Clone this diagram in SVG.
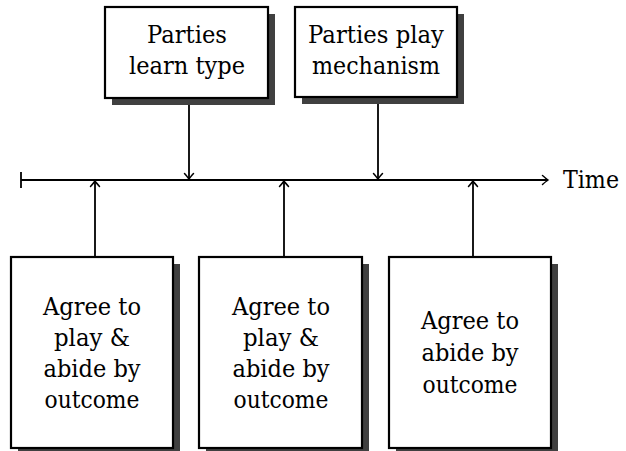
<svg xmlns="http://www.w3.org/2000/svg" width="626" height="451" viewBox="0 0 626 451">
<style>
.box{fill:#fff;stroke:#000;stroke-width:2.2}
.sh{fill:#404040}
.ln{stroke:#000;stroke-width:1.8;fill:none}
</style>
<defs>
<marker id="ah" markerUnits="userSpaceOnUse" markerWidth="14" markerHeight="14" viewBox="-7 -7 14 14" refX="0" refY="0" orient="auto" overflow="visible">
<path d="M-5.5,-4.5 Q-1.5,-1 0,0 Q-1.5,1 -5.5,4.5" fill="none" stroke="#000" stroke-width="1.5" stroke-linecap="round"/>
</marker>
</defs>
<rect width="626" height="451" fill="#fff"/>
<g id="connectors">
<line class="ln" x1="21" y1="180" x2="548" y2="180" marker-end="url(#ah)"/>
<line class="ln" x1="21" y1="172" x2="21" y2="188"/>
<line class="ln" x1="189" y1="98" x2="189" y2="179" marker-end="url(#ah)"/>
<line class="ln" x1="378" y1="97" x2="378" y2="179" marker-end="url(#ah)"/>
<line class="ln" x1="95" y1="257" x2="95" y2="181" marker-end="url(#ah)"/>
<line class="ln" x1="284" y1="257" x2="284" y2="181" marker-end="url(#ah)"/>
<line class="ln" x1="473" y1="257" x2="473" y2="181" marker-end="url(#ah)"/>
</g>
<g font-family="'DejaVu Serif', serif" font-size="25" fill="#000" text-anchor="middle">
<g id="time">
<text x="563" y="188" text-anchor="start" textLength="56" lengthAdjust="spacingAndGlyphs">Time</text>
</g>
<g id="n1">
<rect class="sh" x="112" y="14" width="163" height="91"/>
<rect class="box" x="105" y="7" width="163" height="91"/>
<text x="187" y="43" textLength="80" lengthAdjust="spacingAndGlyphs">Parties</text>
<text x="187" y="74" textLength="116" lengthAdjust="spacingAndGlyphs">learn type</text>
</g>
<g id="n2">
<rect class="sh" x="302" y="14" width="162" height="90"/>
<rect class="box" x="295" y="7" width="162" height="90"/>
<text x="376" y="43" textLength="136" lengthAdjust="spacingAndGlyphs">Parties play</text>
<text x="376" y="74" textLength="128" lengthAdjust="spacingAndGlyphs">mechanism</text>
</g>
<g id="n3">
<rect class="sh" x="18" y="264" width="162" height="191"/>
<rect class="box" x="11" y="257" width="162" height="191"/>
<text x="92" y="315" textLength="98" lengthAdjust="spacingAndGlyphs">Agree to</text>
<text x="92" y="346" textLength="76" lengthAdjust="spacingAndGlyphs">play &amp;</text>
<text x="92" y="377" textLength="97" lengthAdjust="spacingAndGlyphs">abide by</text>
<text x="92" y="408" textLength="95" lengthAdjust="spacingAndGlyphs">outcome</text>
</g>
<g id="n4">
<rect class="sh" x="206" y="264" width="163" height="191"/>
<rect class="box" x="199" y="257" width="163" height="191"/>
<text x="281" y="315" textLength="98" lengthAdjust="spacingAndGlyphs">Agree to</text>
<text x="281" y="346" textLength="76" lengthAdjust="spacingAndGlyphs">play &amp;</text>
<text x="281" y="377" textLength="97" lengthAdjust="spacingAndGlyphs">abide by</text>
<text x="281" y="408" textLength="95" lengthAdjust="spacingAndGlyphs">outcome</text>
</g>
<g id="n5">
<rect class="sh" x="396" y="264" width="162" height="191"/>
<rect class="box" x="389" y="257" width="162" height="191"/>
<text x="470" y="329" textLength="98" lengthAdjust="spacingAndGlyphs">Agree to</text>
<text x="470" y="361" textLength="97" lengthAdjust="spacingAndGlyphs">abide by</text>
<text x="470" y="393" textLength="95" lengthAdjust="spacingAndGlyphs">outcome</text>
</g>
</g>
</svg>
